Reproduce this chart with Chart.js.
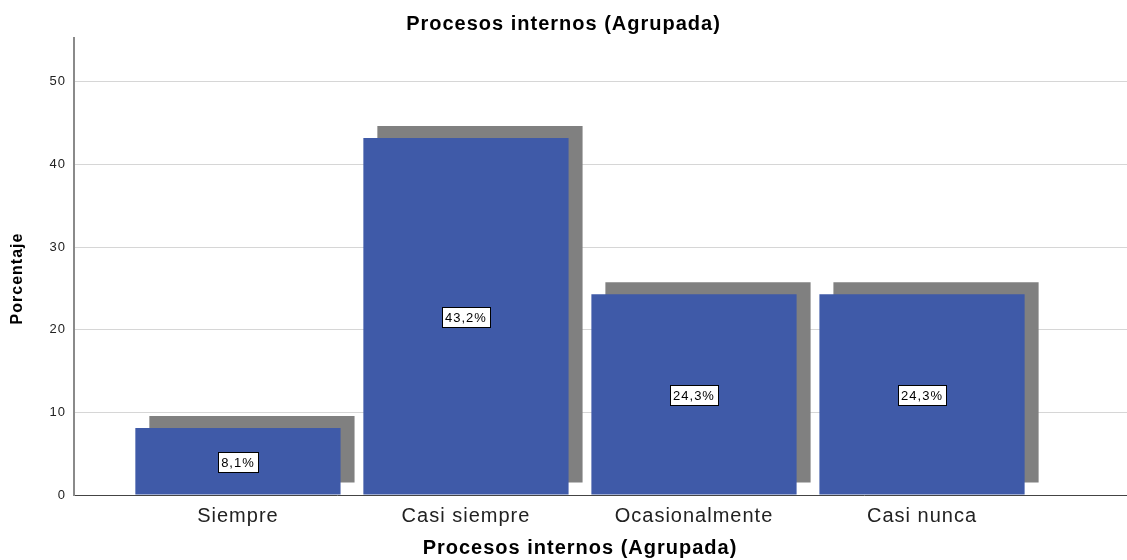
<!DOCTYPE html>
<html>
<head>
<meta charset="utf-8">
<script src="https://cdn.jsdelivr.net/npm/chart.js"></script>
<style>
  html, body { margin: 0; padding: 0; background: #fff; }
  #wrap { width: 1127px; height: 560px; }
</style>
</head>
<body>
<div id="wrap"><canvas id="chart"></canvas></div>
<script>
const categories = ['Siempre', 'Casi siempre', 'Ocasionalmente', 'Casi nunca'];
const percentages = [8.1, 43.2, 24.3, 24.3];
const yTicks = [0, 10, 20, 30, 40, 50];

const chartTitle = 'Procesos internos (Agrupada)';
const yTitle = 'Porcentaje';
const fontFamily = '"Liberation Sans", Arial, sans-serif';

// SPSS-like drop shadow behind each bar (offset right and up)
const barShadow = {
    id: 'barShadow',
    beforeDatasetsDraw(chart) {
        const ctx = chart.ctx;
        ctx.save();
        ctx.shadowColor = '#808080';
        ctx.shadowBlur = 0;
        ctx.shadowOffsetX = 14;
        ctx.shadowOffsetY = -12;
    },
    afterDatasetsDraw(chart) {
        chart.ctx.restore();
    }
};

// boxed value labels in the middle of each bar
const boxLabels = {
    id: 'boxLabels',
    afterDraw(chart) {
        const ctx = chart.ctx;
        const meta = chart.getDatasetMeta(0);
        ctx.save();
        ctx.font = '13px ' + fontFamily;
        ctx.textAlign = 'center';
        ctx.textBaseline = 'middle';
        meta.data.forEach((bar, i) => {
            const text = percentages[i].toFixed(1).replace('.', ',') + '%';
            const w = Math.round(ctx.measureText(text).width + 6);
            const h = 20;
            const left = Math.round(bar.x - w / 2) + 0.5;
            const top = Math.round((bar.y + bar.base) / 2 - h / 2) + 1.5;
            ctx.fillStyle = '#ffffff';
            ctx.fillRect(left, top, w, h);
            ctx.strokeStyle = '#000000';
            ctx.lineWidth = 1;
            ctx.strokeRect(left, top, w, h);
            ctx.fillStyle = '#000000';
            ctx.fillText(text, bar.x, top + h / 2 + 1);
        });
        ctx.restore();
    }
};

// axis titles, placed where the original puts them
const axisTitles = {
    id: 'axisTitles',
    afterDraw(chart) {
        const ctx = chart.ctx;
        const area = chart.chartArea;
        ctx.save();
        ctx.fillStyle = '#000';
        ctx.textAlign = 'center';
        ctx.textBaseline = 'middle';
        ctx.font = 'bold 20px ' + fontFamily;
        ctx.fillText(chartTitle, 580, 548);
        ctx.translate(18, (area.top + area.bottom) / 2 + 12);
        ctx.rotate(-Math.PI / 2);
        ctx.font = 'bold 16px ' + fontFamily;
        ctx.fillText(yTitle, 0, 0);
        ctx.restore();
    }
};

// slightly spaced lettering like the original renderer
const spacing = {
    id: 'spacing',
    beforeUpdate(chart) { chart.ctx.letterSpacing = '1px'; },
    beforeDraw(chart) { chart.ctx.letterSpacing = '1px'; }
};

new Chart(document.getElementById('chart'), {
    type: 'bar',
    data: {
        datasets: [{
            data: percentages.map((v, i) => ({ x: i, y: v })),
            backgroundColor: '#3f5aa8',
            borderWidth: 0,
            categoryPercentage: 1,
            barPercentage: 0.9
        }]
    },
    options: {
        responsive: true,
        maintainAspectRatio: false,
        animation: false,
        layout: { padding: { left: 0, right: 0, top: 0, bottom: 0 } },
        plugins: {
            legend: { display: false },
            tooltip: { enabled: false },
            title: {
                display: true,
                text: chartTitle,
                color: '#000',
                font: { family: fontFamily, size: 20, weight: 'bold' },
                padding: { top: 12, bottom: 2 }
            }
        },
        scales: {
            x: {
                type: 'linear',
                min: -0.719,
                max: 3.899,
                offset: false,
                afterBuildTicks(scale) {
                    scale.ticks = categories.map((c, i) => ({ value: i }));
                },
                afterFit(scale) { scale.height = 65; },
                ticks: {
                    autoSkip: false,
                    maxRotation: 0,
                    padding: 9,
                    color: '#222',
                    font: { family: fontFamily, size: 20 },
                    callback: (v) => categories[v]
                },
                grid: { display: false, drawTicks: false, offset: false },
                border: { display: true, color: '#444', width: 1 }
            },
            y: {
                min: 0,
                max: 55.3,
                afterBuildTicks(scale) {
                    scale.ticks = yTicks.map(v => ({ value: v }));
                },
                afterFit(scale) { scale.width = 74; },
                ticks: {
                    padding: 8,
                    color: '#222',
                    font: { family: fontFamily, size: 13 }
                },
                grid: { color: '#d6d6d6', lineWidth: 1, drawTicks: false },
                border: { display: true, color: '#8a8a8a', width: 2 }
            }
        }
    },
    plugins: [spacing, barShadow, boxLabels, axisTitles]
});
</script>
</body>
</html>
